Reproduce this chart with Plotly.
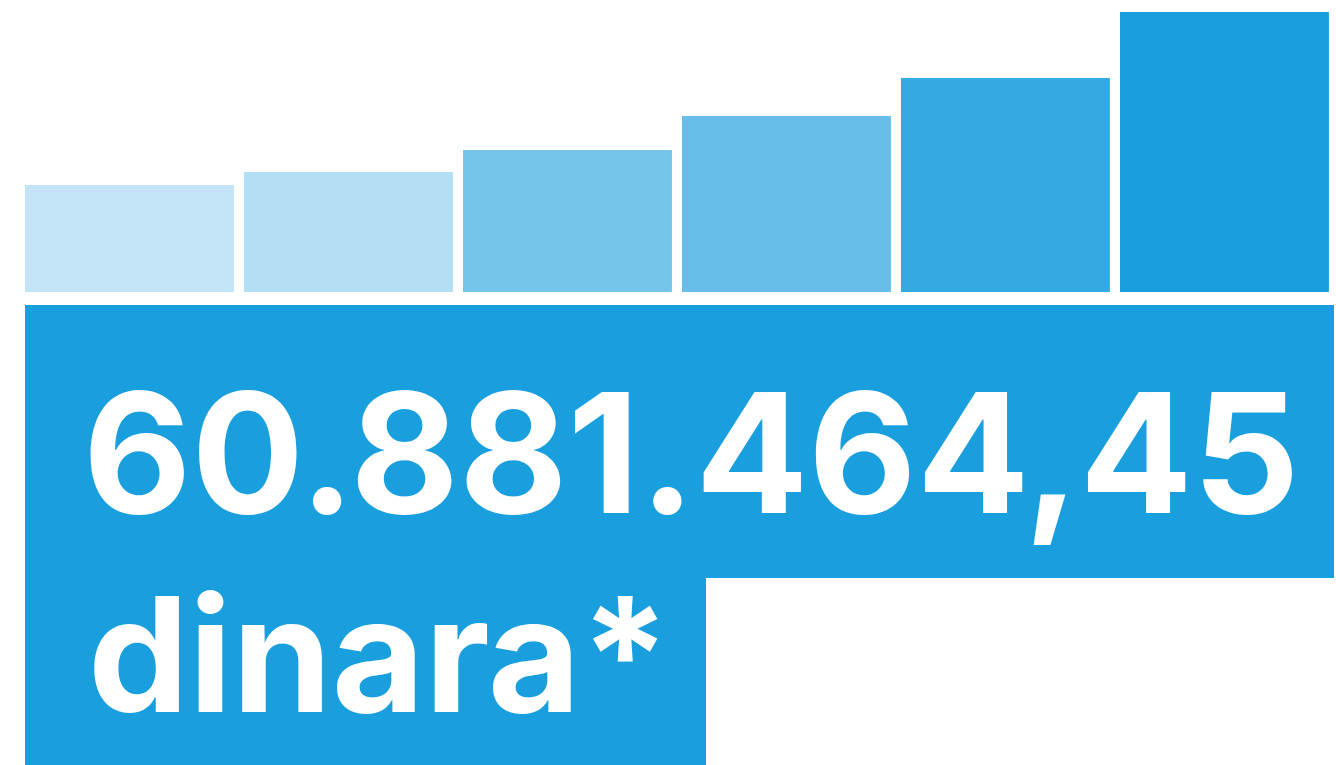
import plotly.graph_objects as go

categories = ["1", "2", "3", "4", "5", "6"]
values = [107, 120, 142, 176, 214, 280]
bar_colors = ["#C2E4F6", "#B3DFF4", "#75C4EA", "#67BFE9", "#35AAE2", "#1A9FDE"]
total_label = "60.881.464,45"
unit_label = "dinara*"

W, H = 1336, 765
BLUE = "#1A9FDE"

def px(x):
    return x / W

def py(y):
    return 1 - y / H

fig = go.Figure(go.Bar(
    x=list(range(len(categories))), y=values,
    marker=dict(color=bar_colors, line=dict(width=0)),
    width=0.954, hoverinfo="skip",
))

unit = 219.0
x0 = -0.477 - 25 / unit
fig.update_layout(
    width=W, height=H,
    margin=dict(l=0, r=0, t=0, b=0),
    paper_bgcolor="white", plot_bgcolor="white",
    showlegend=False,
    xaxis=dict(range=[x0, x0 + W / unit], visible=False, domain=[0, 1]),
    yaxis=dict(range=[0, max(values)], visible=False,
               domain=[py(292), py(12)]),
    shapes=[
        dict(type="rect", xref="paper", yref="paper",
             x0=px(25), x1=px(1334), y0=py(578), y1=py(305),
             fillcolor=BLUE, line=dict(width=0), layer="below"),
        dict(type="rect", xref="paper", yref="paper",
             x0=px(25), x1=px(706), y0=0, y1=py(577),
             fillcolor=BLUE, line=dict(width=0), layer="below"),
    ],
    annotations=[
        dict(text=total_label, xref="paper", yref="paper",
             x=px(81), y=py(452), xanchor="left", yanchor="middle",
             showarrow=False,
             font=dict(family="Inter", size=167, color="white", weight=700)),
        dict(text=unit_label, xref="paper", yref="paper",
             x=px(86), y=py(654), xanchor="left", yanchor="middle",
             showarrow=False,
             font=dict(family="Inter", size=160, color="white", weight=700)),
    ],
)

fig.write_html("out.html",
               config={"displayModeBar": False, "staticPlot": True},
               post_script="document.body.style.margin='0';")
